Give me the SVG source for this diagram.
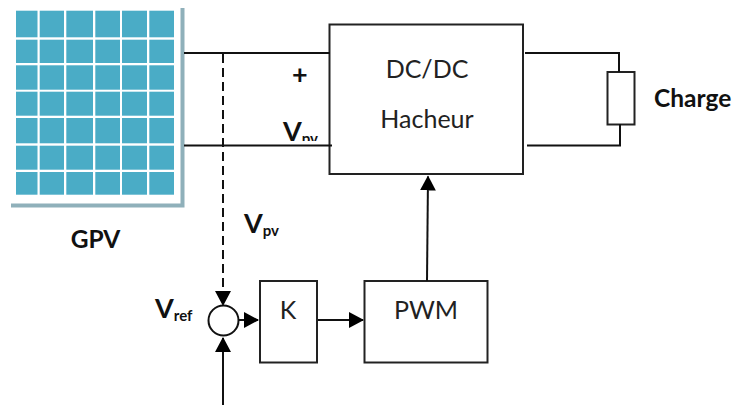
<svg xmlns="http://www.w3.org/2000/svg" width="738" height="405" viewBox="0 0 738 405">
<style>
.ln{fill:none;stroke:#111;stroke-width:2}
.box{fill:#fff;stroke:#222;stroke-width:2}
.cell{fill:#4aacc6}
.t{font-family:Lato,"Open Sans","Liberation Sans",sans-serif;fill:#222;font-size:25px;text-anchor:middle}
.b{font-family:Lato,"Open Sans","Liberation Sans",sans-serif;fill:#111;font-weight:700;font-size:24.500px}
.s{font-size:15px}
.v{font-size:27px}
.p{font-size:27px}
</style>
<defs>
<marker id="ah" markerUnits="userSpaceOnUse" markerWidth="15" markerHeight="16" refX="14" refY="8" orient="auto"><path d="M0 0L15 8L0 16Z" fill="#000"/></marker>
<clipPath id="cv"><rect x="270" y="110" width="70" height="31"/></clipPath>
</defs>
<rect width="738" height="405" fill="#fff"/>
<g id="gpv">
<path d="M182.500 8V205.500H11" fill="none" stroke="#8fb0ba" stroke-width="4"/>
<g class="cell">
<rect x="16" y="10.700" width="21.500" height="26.600"/><rect x="39.700" y="10.700" width="24.300" height="26.600"/><rect x="66.300" y="10.700" width="26.700" height="26.600"/><rect x="95.300" y="10.700" width="24.700" height="26.600"/><rect x="122" y="10.700" width="25" height="26.600"/><rect x="149.300" y="10.700" width="24.700" height="26.600"/>
<rect x="16" y="39.700" width="21.500" height="23.300"/><rect x="39.700" y="39.700" width="24.300" height="23.300"/><rect x="66.300" y="39.700" width="26.700" height="23.300"/><rect x="95.300" y="39.700" width="24.700" height="23.300"/><rect x="122" y="39.700" width="25" height="23.300"/><rect x="149.300" y="39.700" width="24.700" height="23.300"/>
<rect x="16" y="65.300" width="21.500" height="24.400"/><rect x="39.700" y="65.300" width="24.300" height="24.400"/><rect x="66.300" y="65.300" width="26.700" height="24.400"/><rect x="95.300" y="65.300" width="24.700" height="24.400"/><rect x="122" y="65.300" width="25" height="24.400"/><rect x="149.300" y="65.300" width="24.700" height="24.400"/>
<rect x="16" y="91.700" width="21.500" height="24"/><rect x="39.700" y="91.700" width="24.300" height="24"/><rect x="66.300" y="91.700" width="26.700" height="24"/><rect x="95.300" y="91.700" width="24.700" height="24"/><rect x="122" y="91.700" width="25" height="24"/><rect x="149.300" y="91.700" width="24.700" height="24"/>
<rect x="16" y="118" width="21.500" height="25.300"/><rect x="39.700" y="118" width="24.300" height="25.300"/><rect x="66.300" y="118" width="26.700" height="25.300"/><rect x="95.300" y="118" width="24.700" height="25.300"/><rect x="122" y="118" width="25" height="25.300"/><rect x="149.300" y="118" width="24.700" height="25.300"/>
<rect x="16" y="145.700" width="21.500" height="24"/><rect x="39.700" y="145.700" width="24.300" height="24"/><rect x="66.300" y="145.700" width="26.700" height="24"/><rect x="95.300" y="145.700" width="24.700" height="24"/><rect x="122" y="145.700" width="25" height="24"/><rect x="149.300" y="145.700" width="24.700" height="24"/>
<rect x="16" y="172" width="21.500" height="22.700"/><rect x="39.700" y="172" width="24.300" height="22.700"/><rect x="66.300" y="172" width="26.700" height="22.700"/><rect x="95.300" y="172" width="24.700" height="22.700"/><rect x="122" y="172" width="25" height="22.700"/><rect x="149.300" y="172" width="24.700" height="22.700"/>
</g>
<text class="b" x="95.500" y="248" text-anchor="middle">GPV</text>
</g>
<g id="dcdc">
<rect class="box" x="329.500" y="24.500" width="193.500" height="149.500"/>
<text class="t" x="427" y="78">DC/DC</text>
<text class="t" x="427" y="127.500">Hacheur</text>
</g>
<g id="charge">
<rect class="box" x="607.500" y="72" width="27" height="52.500"/>
<text class="b" x="654" y="107">Charge</text>
</g>
<g id="k">
<rect class="box" x="260" y="281" width="57" height="81.500"/>
<text class="t" x="288" y="319">K</text>
</g>
<g id="pwm">
<rect class="box" x="364.500" y="281" width="123" height="81.500"/>
<text class="t" x="426" y="319">PWM</text>
</g>
<g id="sum">
<circle cx="223.500" cy="320.500" r="15" fill="#fff" stroke="#111" stroke-width="2"/>
</g>
<g id="connectors">
<path class="ln" d="M184 53H330M184 145.500H332"/>
<path class="ln" d="M525 53H619V72M527 145.500H620V124"/>
<path class="ln" d="M223 54V305" stroke-dasharray="9 5" marker-end="url(#ah)"/>
<path class="ln" d="M223 405V338" marker-end="url(#ah)"/>
<path class="ln" d="M238 320H258" marker-end="url(#ah)"/>
<path class="ln" d="M318 320H363" marker-end="url(#ah)"/>
<path class="ln" d="M427 281L428 176.500" marker-end="url(#ah)"/>
</g>
<g id="labels">
<text class="b p" x="292" y="84">+</text>
<text class="b v" x="283" y="141" clip-path="url(#cv)">V<tspan class="s" dy="3">pv</tspan></text>
<text class="b v" x="244" y="233">V<tspan class="s" dy="3">pv</tspan></text>
<text class="b v" x="155" y="318">V<tspan class="s" dy="3">ref</tspan></text>
</g>
</svg>
